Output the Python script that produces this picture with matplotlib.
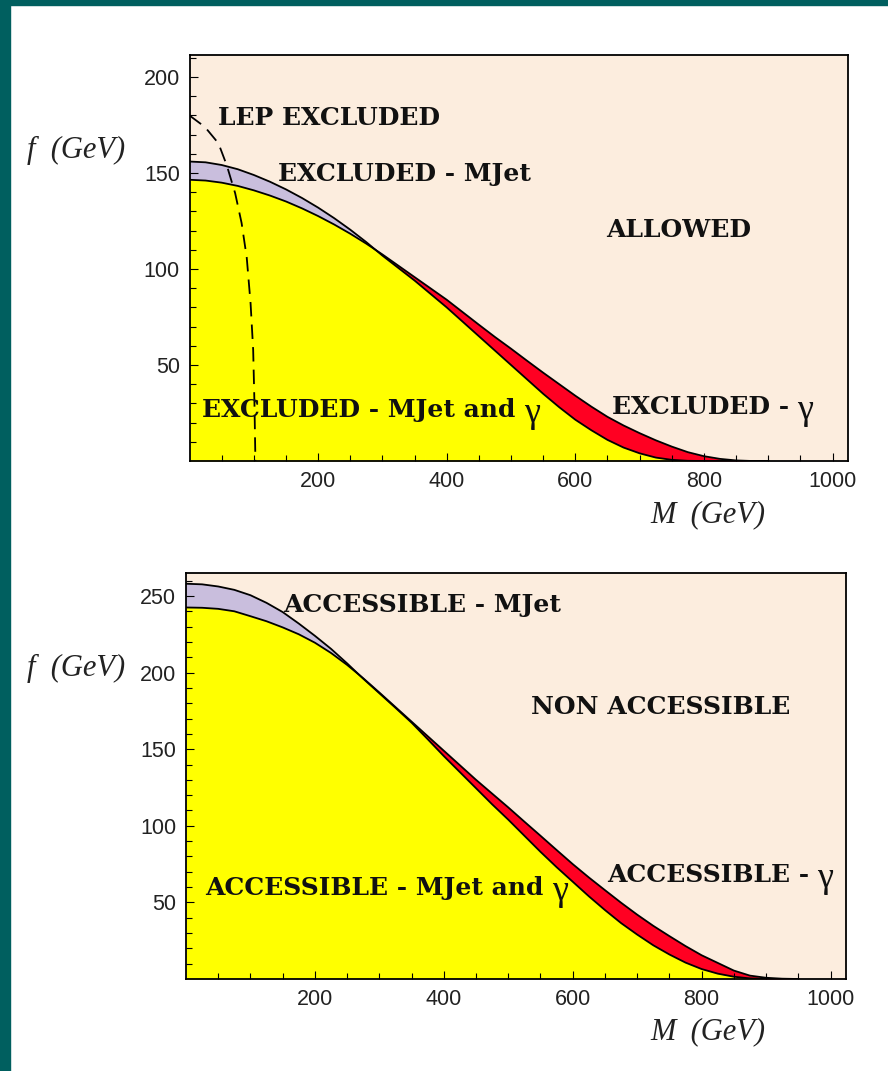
import matplotlib
matplotlib.use("Agg")
import matplotlib.pyplot as plt
import numpy as np
from matplotlib.patches import Rectangle

# top panel: exclusion limits, f (GeV) vs M (GeV), read every 25 GeV
m_top = list(range(0, 901, 25))
mjet_top = [156, 155.6, 154.2, 152, 149, 145.5, 141.5, 137, 132, 126.5, 120.5, 114, 107,
            100.5, 94, 87, 80, 72.5, 65, 57.5, 50, 42.5, 35, 28, 21.5, 16, 11, 7, 4, 1.8,
            0.6, 0.1, 0, 0, 0, 0, 0]
gam_top = [146.5, 146.1, 145, 143.3, 141, 138.3, 135.2, 131.6, 127.6, 123.2, 118.4, 113.2, 107.6,
           101.7, 95.8, 89.9, 84, 77.5, 71, 64.6, 58.5, 52.2, 46, 40, 34, 28.3, 23, 18.5, 14.5,
           10.8, 7.5, 4.6, 2.5, 1.1, 0.3, 0, 0]

# LEP bound (dashed)
m_lep = [0, 24, 45, 58, 71, 81, 89, 95, 99, 101, 102.5]
f_lep = [180, 174, 165.5, 154, 139.5, 124, 106, 82, 58, 30, 0]

# bottom panel: reach
m_bot = list(range(0, 951, 25))
mjet_bot = [258, 257.6, 256.2, 254, 250.5, 245.5, 239.5, 232, 224, 215.5, 206, 196, 186.5,
            177, 167.3, 156.5, 145.5, 135, 124.5, 114, 104, 93.5, 83, 73, 63.5, 54, 45, 36.5,
            29, 22, 16, 10.7, 6.5, 3.5, 1.5, 0.4, 0, 0, 0]
gam_bot = [242.5, 242.3, 241.6, 240, 236.8, 233.5, 229.5, 225, 219.5, 212.8, 205, 196.3, 187,
           177.5, 168, 158.5, 149, 139.5, 130, 121, 112, 102.7, 93.5, 84.2, 75, 66.3, 58, 49.8,
           42, 34.7, 28, 21.5, 15.5, 10.5, 5.5, 2.2, 0.8, 0.2, 0]

bg = '#fcedde'
lav = '#c9bedd'
yel = '#ffff00'
red = '#ff0022'
teal = '#005f5f'

serif = 'Liberation Serif'
boldserif = 'DejaVu Serif'
sans = 'Liberation Sans'

fig = plt.figure(figsize=(8.88, 10.71), dpi=100)
fig.patch.set_facecolor('white')
fig.patches.append(Rectangle((0, 0), 10/888, 1, transform=fig.transFigure, color=teal, zorder=0))
fig.patches.append(Rectangle((0, 1-5/1071), 1, 5/1071, transform=fig.transFigure, color=teal, zorder=0))

ax1 = fig.add_axes([189.5/888, 1-461/1071, (848-189.5)/888, 406/1071])
ax2 = fig.add_axes([186/888, 1-979/1071, (846-186)/888, 406/1071])


def draw_panel(ax, m, mj, ga, ymax, yticks, labs):
    m = np.array(m); mj = np.array(mj); ga = np.array(ga)
    low = np.minimum(mj, ga)
    ax.set_facecolor(bg)
    ax.fill_between(m, 0, low, color=yel, lw=0, zorder=1)
    ax.fill_between(m, ga, mj, where=mj >= ga, interpolate=True, color=lav, lw=0, zorder=1)
    ax.fill_between(m, mj, ga, where=ga >= mj, interpolate=True, color=red, lw=0, zorder=1)
    ax.plot(m, mj, color='black', lw=1.3, zorder=2)
    ax.plot(m, ga, color='black', lw=1.3, zorder=2)
    ax.set_xlim(0, 1024)
    ax.set_ylim(0, ymax)
    ax.set_xticks([200, 400, 600, 800, 1000])
    ax.set_xticks(np.arange(50, 1001, 50), minor=True)
    ax.set_yticks(yticks)
    ax.set_yticks(np.arange(10, ymax, 10), minor=True)
    ax.tick_params(which='both', direction='in', top=False, right=False, labelsize=15.5, width=0.8)
    ax.tick_params(which='major', length=6)
    ax.tick_params(which='minor', length=4)
    ax.tick_params(axis='y', pad=7)
    ax.tick_params(axis='x', pad=7)
    for lab in ax.get_xticklabels() + ax.get_yticklabels():
        lab.set_family(sans)
        lab.set_color('#222222')
    for s in ax.spines.values():
        s.set_linewidth(1.3)
    for txt, x, y, gam in labs:
        t = ax.text(x, y, txt, transform=None, fontsize=18, fontweight='bold', family=boldserif,
                    va='center', ha='left', color='#111111', zorder=5)
        if gam:
            ax.annotate('γ', xy=(1, 0.35), xycoords=t, xytext=(6, 0), textcoords='offset points',
                        fontsize=26, family=serif, va='center', ha='left', color='#111111', zorder=5)


H = 1071


def px(x, y):
    return x, H - y


labs_top = [
    ('LEP EXCLUDED', *px(218, 118), False),
    ('EXCLUDED - MJet', *px(278, 174), False),
    ('ALLOWED', *px(606, 230), False),
    ('EXCLUDED - MJet and', *px(202, 410), True),
    ('EXCLUDED -', *px(612, 407), True),
]
labs_bot = [
    ('ACCESSIBLE - MJet', *px(283, 605), False),
    ('NON ACCESSIBLE', *px(531, 707), False),
    ('ACCESSIBLE - MJet and', *px(205, 888), True),
    ('ACCESSIBLE -', *px(607, 875), True),
]

draw_panel(ax1, m_top, mjet_top, gam_top, 211.5, [50, 100, 150, 200], labs_top)
ax1.plot(m_lep, f_lep, color='black', lw=1.3, ls=(0, (8, 4.5)), zorder=3)
draw_panel(ax2, m_bot, mjet_bot, gam_bot, 265, [50, 100, 150, 200, 250], labs_bot)

for yc in [150, 668]:
    fig.text(76/888, 1 - yc/1071, 'f  (GeV)', family=serif, style='italic', fontsize=22,
             ha='center', va='center', color='#222222')
for yc in [515, 1032]:
    fig.text(708/888, 1 - yc/1071, 'M  (GeV)', family=serif, style='italic', fontsize=22,
             ha='center', va='center', color='#222222')

fig.savefig('out.png', dpi=100)
